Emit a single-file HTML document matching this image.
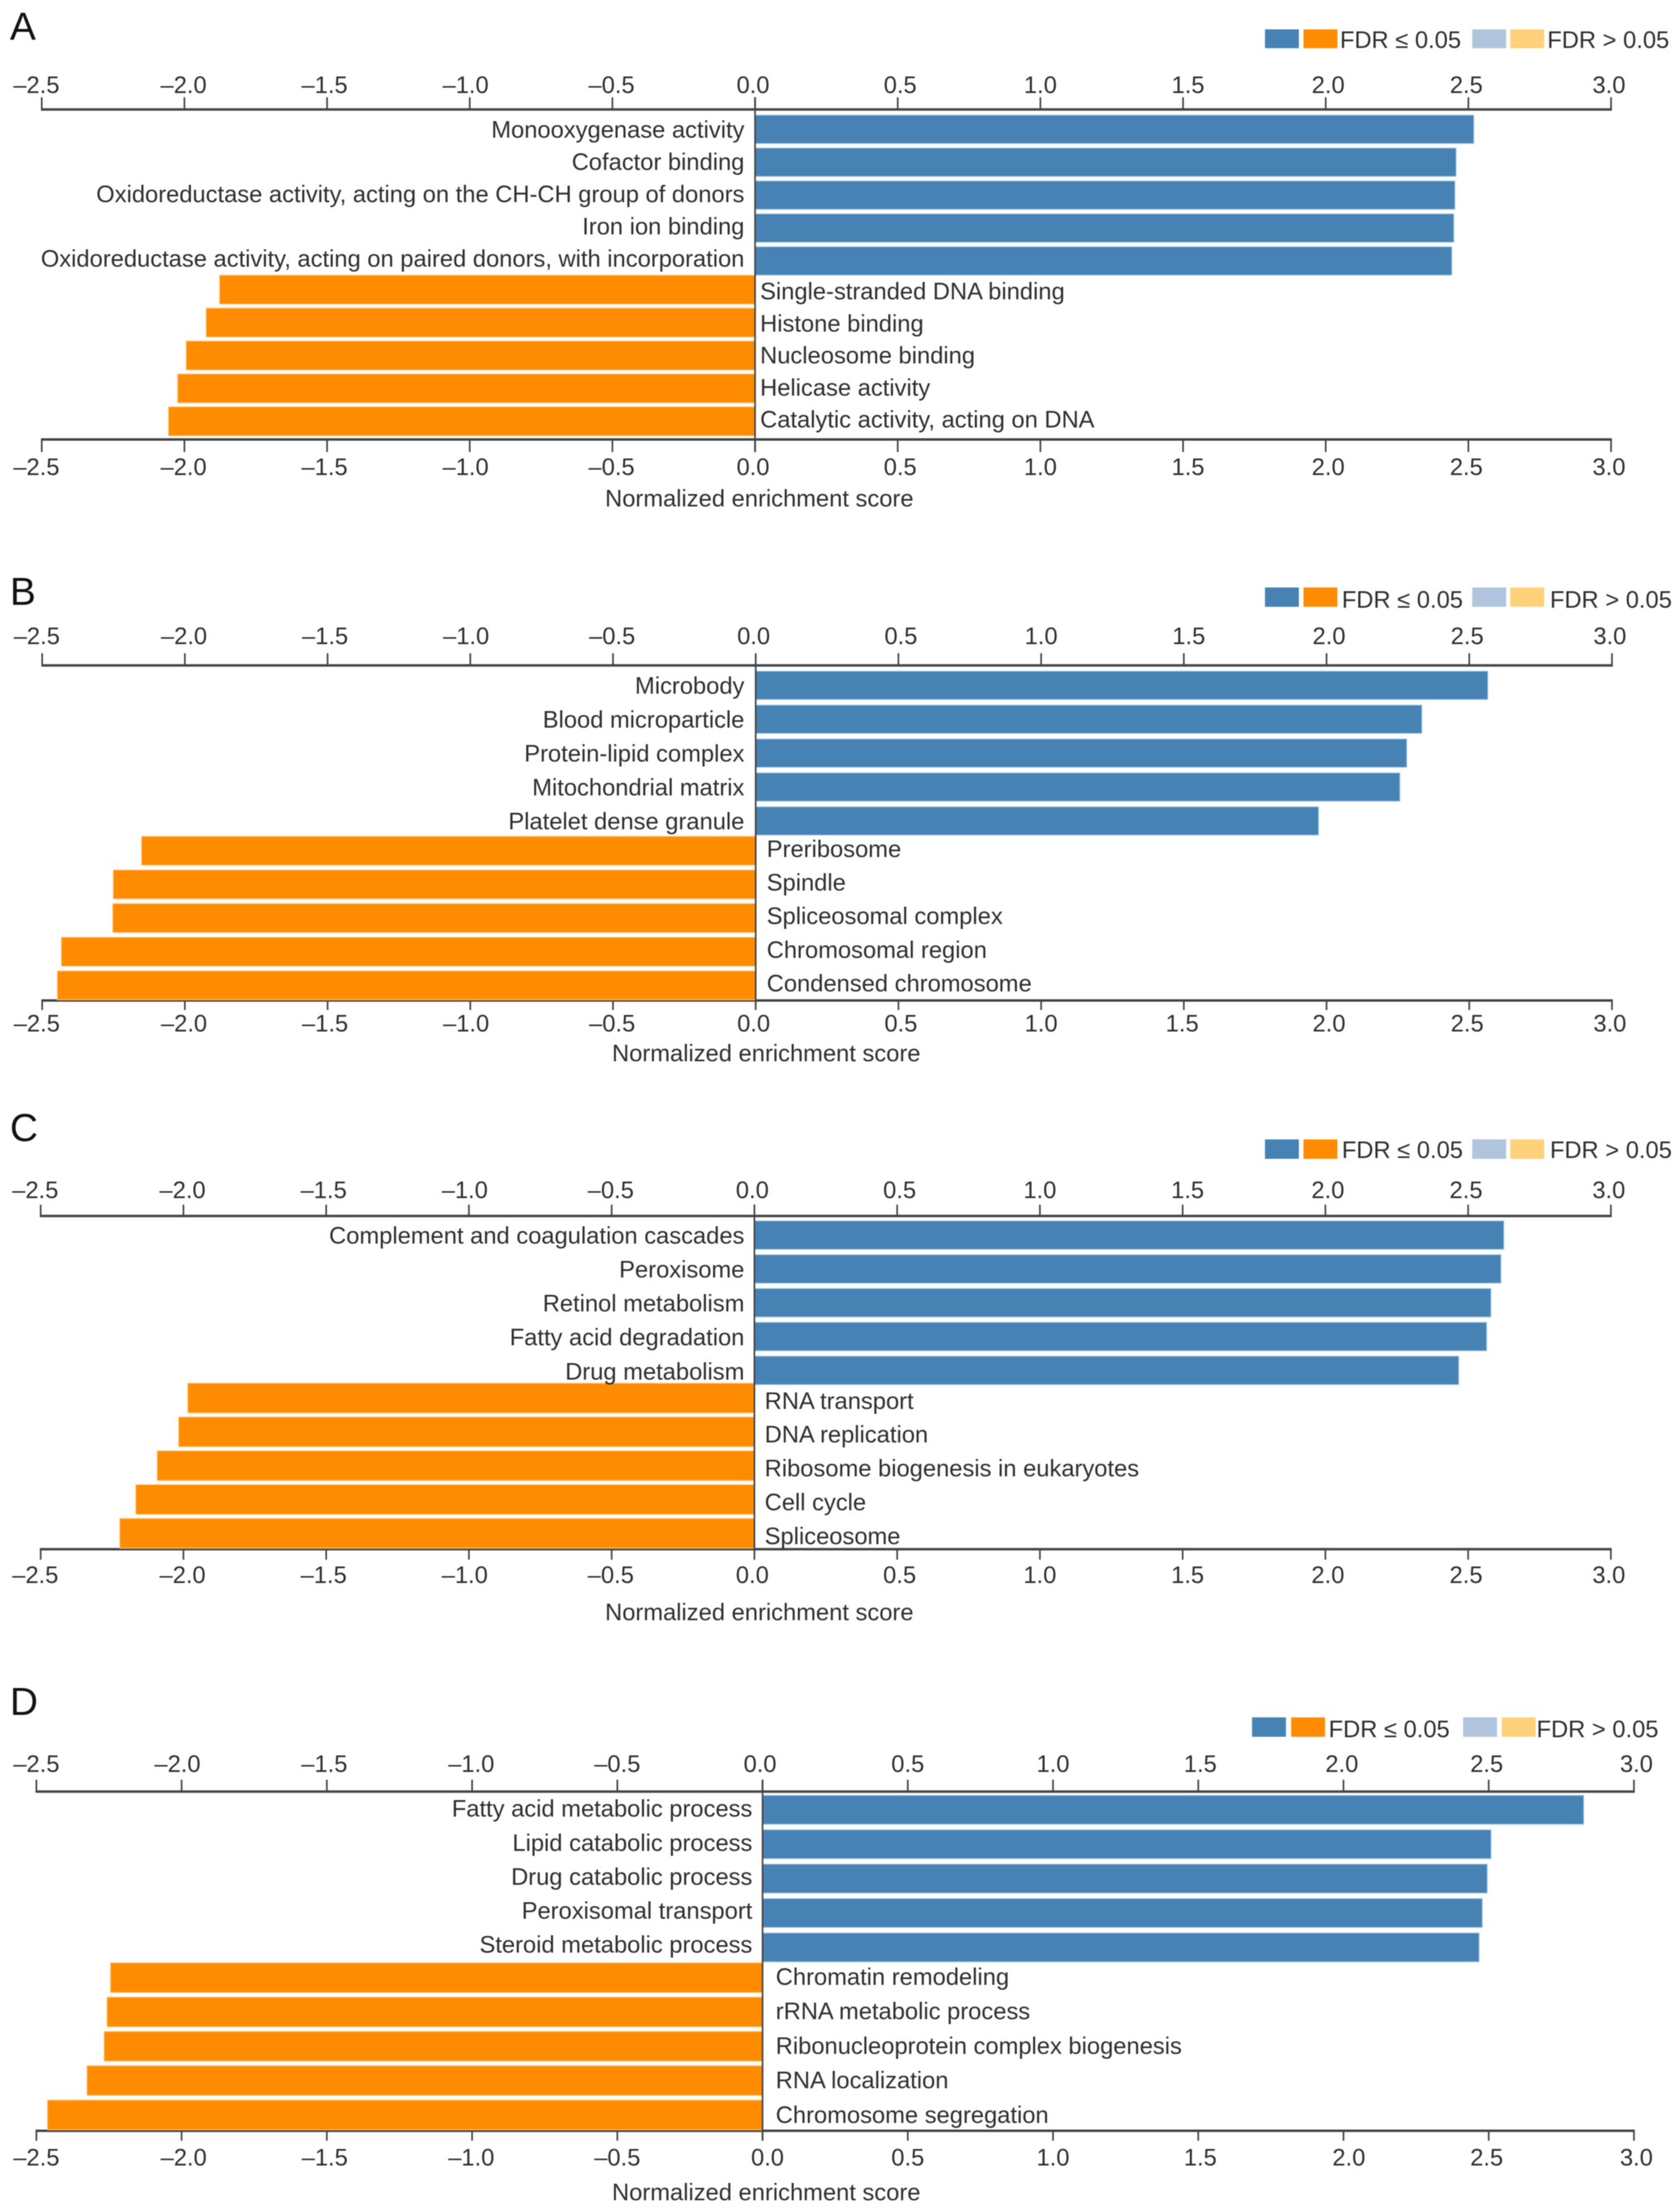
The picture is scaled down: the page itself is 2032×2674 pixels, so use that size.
<!DOCTYPE html>
<html lang="en">
<head>
<meta charset="utf-8">
<title>Normalized enrichment score bar charts</title>
<style>
  html, body { margin: 0; padding: 0; background: #fff; }
  svg { display: block; filter: blur(0.6px); }
  text { font-family: "Liberation Sans", Arial, sans-serif; fill: #2e2e2e; }
</style>
</head>
<body>
<svg id="figure" xmlns="http://www.w3.org/2000/svg" width="2032" height="2674" viewBox="0 0 2032 2674"></svg>
<script>
const tickValues = [-2.5, -2.0, -1.5, -1.0, -0.5, 0.0, 0.5, 1.0, 1.5, 2.0, 2.5, 3.0];
const tickLabels = ['–2.5', '–2.0', '–1.5', '–1.0', '–0.5', '0.0', '0.5', '1.0', '1.5', '2.0', '2.5', '3.0'];

const panelACategories = ['Monooxygenase activity', 'Cofactor binding', 'Oxidoreductase activity, acting on the CH-CH group of donors', 'Iron ion binding', 'Oxidoreductase activity, acting on paired donors, with incorporation', 'Single-stranded DNA binding', 'Histone binding', 'Nucleosome binding', 'Helicase activity', 'Catalytic activity, acting on DNA'];
const panelAValues = [2.519, 2.457, 2.453, 2.449, 2.442, -1.877, -1.924, -1.994, -2.024, -2.056];

const panelBCategories = ['Microbody', 'Blood microparticle', 'Protein-lipid complex', 'Mitochondrial matrix', 'Platelet dense granule', 'Preribosome', 'Spindle', 'Spliceosomal complex', 'Chromosomal region', 'Condensed chromosome'];
const panelBValues = [2.565, 2.334, 2.281, 2.257, 1.972, -2.152, -2.251, -2.253, -2.433, -2.447];

const panelCCategories = ['Complement and coagulation cascades', 'Peroxisome', 'Retinol metabolism', 'Fatty acid degradation', 'Drug metabolism', 'RNA transport', 'DNA replication', 'Ribosome biogenesis in eukaryotes', 'Cell cycle', 'Spliceosome'];
const panelCValues = [2.625, 2.615, 2.58, 2.565, 2.467, -1.985, -2.017, -2.092, -2.167, -2.223];

const panelDCategories = ['Fatty acid metabolic process', 'Lipid catabolic process', 'Drug catabolic process', 'Peroxisomal transport', 'Steroid metabolic process', 'Chromatin remodeling', 'rRNA metabolic process', 'Ribonucleoprotein complex biogenesis', 'RNA localization', 'Chromosome segregation'];
const panelDValues = [2.827, 2.508, 2.495, 2.478, 2.467, -2.245, -2.257, -2.267, -2.326, -2.462];

const legendLabels = ['FDR ≤ 0.05', 'FDR > 0.05'];

const COLORS = { blue: '#4682b4', blueEdge: '#a8cbe6', orange: '#ff8c00', orangeEdge: '#ffcb8a', lightBlue: '#b0c4de', lightOrange: '#ffd17a', axis: '#444444' };
const FONT_SIZE = 28.7;
const DOMAIN_MIN = -2.5;
const DOMAIN_MAX = 3.0;

const layouts = [
  { id: 'a', letter: 'A', letterY: 48, categories: panelACategories, values: panelAValues,
    left: 50.5, right: 1948.6, axisTop: 132.4, axisBottom: 531.5, tickTop: 117.6, tickBottom: 546.7,
    posTop: 139.2, posPitch: 39.8, posH: 34.4, negTop: 332.8, negPitch: 39.8, negH: 35,
    posTextTop: 166.5, posTextPitch: 39, negTextTop: 362, negTextPitch: 38.75, negTextX: 919.4, posTextEnd: 900.4,
    topLabelY: 112.4, bottomLabelY: 574.5, titleY: 612.4, titleX: 918.4, legendTop: 35.5, legendH: 22.8, legendTextY: 58,
    legendX: [1530, 1576.6, 1780.7, 1826.7], legendTextX: [1620.7, 1871.5], topNudge: 'std', bottomNudge: 'std' },
  { id: 'b', letter: 'B', letterY: 731.5, categories: panelBCategories, values: panelBValues,
    left: 51, right: 1949.7, axisTop: 804.8, axisBottom: 1210, tickTop: 790, tickBottom: 1221.5,
    posTop: 811.7, posPitch: 41, posH: 34.3, negTop: 1011.4, negPitch: 40.7, negH: 35,
    posTextTop: 839.2, posTextPitch: 40.9, negTextTop: 1036.5, negTextPitch: 40.6, negTextX: 927.4, posTextEnd: 900.4,
    topLabelY: 779, bottomLabelY: 1247.3, titleY: 1283.5, titleX: 926.8, legendTop: 710.5, legendH: 23.4, legendTextY: 734.8,
    legendX: [1530, 1576.6, 1780.7, 1826.7], legendTextX: [1623, 1874.7], topNudge: 'std', bottomNudge: 'b' },
  { id: 'c', letter: 'C', letterY: 1380, categories: panelCCategories, values: panelCValues,
    left: 49.2, right: 1948.4, axisTop: 1470.6, axisBottom: 1873.6, tickTop: 1456.9, tickBottom: 1886.3,
    posTop: 1476.5, posPitch: 40.9, posH: 34.5, negTop: 1672.8, negPitch: 40.9, negH: 36,
    posTextTop: 1504, posTextPitch: 41.07, negTextTop: 1703.8, negTextPitch: 40.9, negTextX: 924.9, posTextEnd: 900.4,
    topLabelY: 1449, bottomLabelY: 1914.5, titleY: 1959.3, titleX: 918.4, legendTop: 1378, legendH: 23.5, legendTextY: 1400.7,
    legendX: [1530, 1576.6, 1780.7, 1826.7], legendTextX: [1623, 1874.7], topNudge: 'std', bottomNudge: 'std' },
  { id: 'd', letter: 'D', letterY: 2074, categories: panelDCategories, values: panelDValues,
    left: 44, right: 1976.3, axisTop: 2166.8, axisBottom: 2577, tickTop: 2152.4, tickBottom: 2589,
    posTop: 2171.3, posPitch: 41.6, posH: 35, negTop: 2373.8, negPitch: 41.5, negH: 36,
    posTextTop: 2197.2, posTextPitch: 41.1, negTextTop: 2400.3, negTextPitch: 41.8, negTextX: 938.3, posTextEnd: 910,
    topLabelY: 2143, bottomLabelY: 2619, titleY: 2661, titleX: 926.8, legendTop: 2077, legendH: 23.5, legendTextY: 2100.9,
    legendX: [1514.4, 1561.7, 1769.7, 1816.4], legendTextX: [1607, 1858.5], topNudge: 'dTop', bottomNudge: 'dBottom' }
];

const labelNudges = {
  std: [-6.5, -1, -3, -5, -1, -2.5, 3, 0, 6, 3, -2.5, -2.5],
  b: [-6.5, -1, -3, -5, -1, -2.5, 3, 0, -2, 3, -2.5, -2.5],
  dTop: [0, -5, -3, -1, 0, -3, 0, 0, 2.5, -2, -2.5, 3],
  dBottom: [0, 2.5, -2.5, -1, 0, 6, 0, 0, 2.5, 6.5, -2.5, 3]
};

const SVG_NS = 'http://www.w3.org/2000/svg';
const figure = document.getElementById('figure');

function make(tag, attrs, parent, content) {
  const el = document.createElementNS(SVG_NS, tag);
  Object.keys(attrs).forEach(function (k) { el.setAttribute(k, attrs[k]); });
  if (content !== undefined) el.textContent = content;
  parent.appendChild(el);
  return el;
}

function slug(s) {
  return s.toLowerCase().replace(/[^a-z0-9]+/g, '-').replace(/^-|-$/g, '');
}

function drawAxis(group, p, xScale, axisY, tickEndY, labelY, side, nudge) {
  const axisLine = make('line', { x1: p.left - 1, x2: p.right + 1, y1: axisY, y2: axisY, stroke: COLORS.axis, 'stroke-width': 3 }, group);
  
  
  tickValues.forEach(function (t, i) {
    const tick = make('line', { x1: xScale(t), x2: xScale(t), y1: axisY, y2: tickEndY, stroke: COLORS.axis, 'stroke-width': 2 }, group);
    
    
    const label = make('text', { x: xScale(t) + labelNudges[nudge][i], y: labelY, 'text-anchor': 'middle', 'font-size': FONT_SIZE }, group, tickLabels[i]);
    
    
  });
}

function drawPanel(p) {
  const group = make('g', {}, figure);
  
  

  const xScale = function (v) {
    return p.left + (v - DOMAIN_MIN) / (DOMAIN_MAX - DOMAIN_MIN) * (p.right - p.left);
  };
  const zero = xScale(0);

  const letter = make('text', { x: 12, y: p.letterY, 'font-size': 47, style: 'fill:#111' }, group, p.letter);
  
  

  const swatchColors = [COLORS.blue, COLORS.orange, COLORS.lightBlue, COLORS.lightOrange];
  const swatchNames = ['legend-swatch-up-significant', 'legend-swatch-down-significant', 'legend-swatch-up-nonsignificant', 'legend-swatch-down-nonsignificant'];
  swatchColors.forEach(function (color, i) {
    const sw = make('rect', { x: p.legendX[i], y: p.legendTop, width: 41, height: p.legendH, fill: color }, group);
    
    
  });
  legendLabels.forEach(function (txt, i) {
    const lg = make('text', { x: p.legendTextX[i], y: p.legendTextY, 'font-size': FONT_SIZE }, group, txt);
    
    
  });

  drawAxis(group, p, xScale, p.axisTop, p.tickTop, p.topLabelY, 'top', p.topNudge);
  drawAxis(group, p, xScale, p.axisBottom, p.tickBottom, p.bottomLabelY, 'bottom', p.bottomNudge);

  p.values.forEach(function (v, i) {
    const positive = v >= 0;
    const rowIndex = positive ? i : i - 5;
    const y = positive ? p.posTop + rowIndex * p.posPitch : p.negTop + rowIndex * p.negPitch;
    const x = Math.min(xScale(v), zero);
    const bar = make('rect', { x: x, y: y, width: Math.abs(xScale(v) - zero), height: positive ? p.posH : p.negH, fill: positive ? COLORS.blue : COLORS.orange, stroke: positive ? COLORS.blueEdge : COLORS.orangeEdge, 'stroke-width': 1 }, group);
    
    
  });

  const zeroLine = make('line', { x1: zero, x2: zero, y1: p.tickTop, y2: p.tickBottom, stroke: COLORS.axis, 'stroke-width': 2 }, group);
  
  

  p.values.forEach(function (v, i) {
    const positive = v >= 0;
    const rowIndex = positive ? i : i - 5;
    const y = positive ? p.posTextTop + rowIndex * p.posTextPitch : p.negTextTop + rowIndex * p.negTextPitch;
    const cat = make('text', { x: positive ? p.posTextEnd : p.negTextX, y: y, 'text-anchor': positive ? 'end' : 'start', 'font-size': FONT_SIZE }, group, p.categories[i]);
    
    
  });

  const title = make('text', { x: p.titleX, y: p.titleY, 'text-anchor': 'middle', 'font-size': FONT_SIZE }, group, 'Normalized enrichment score');
  
  
}

layouts.forEach(drawPanel);
</script>
</body>
</html>
